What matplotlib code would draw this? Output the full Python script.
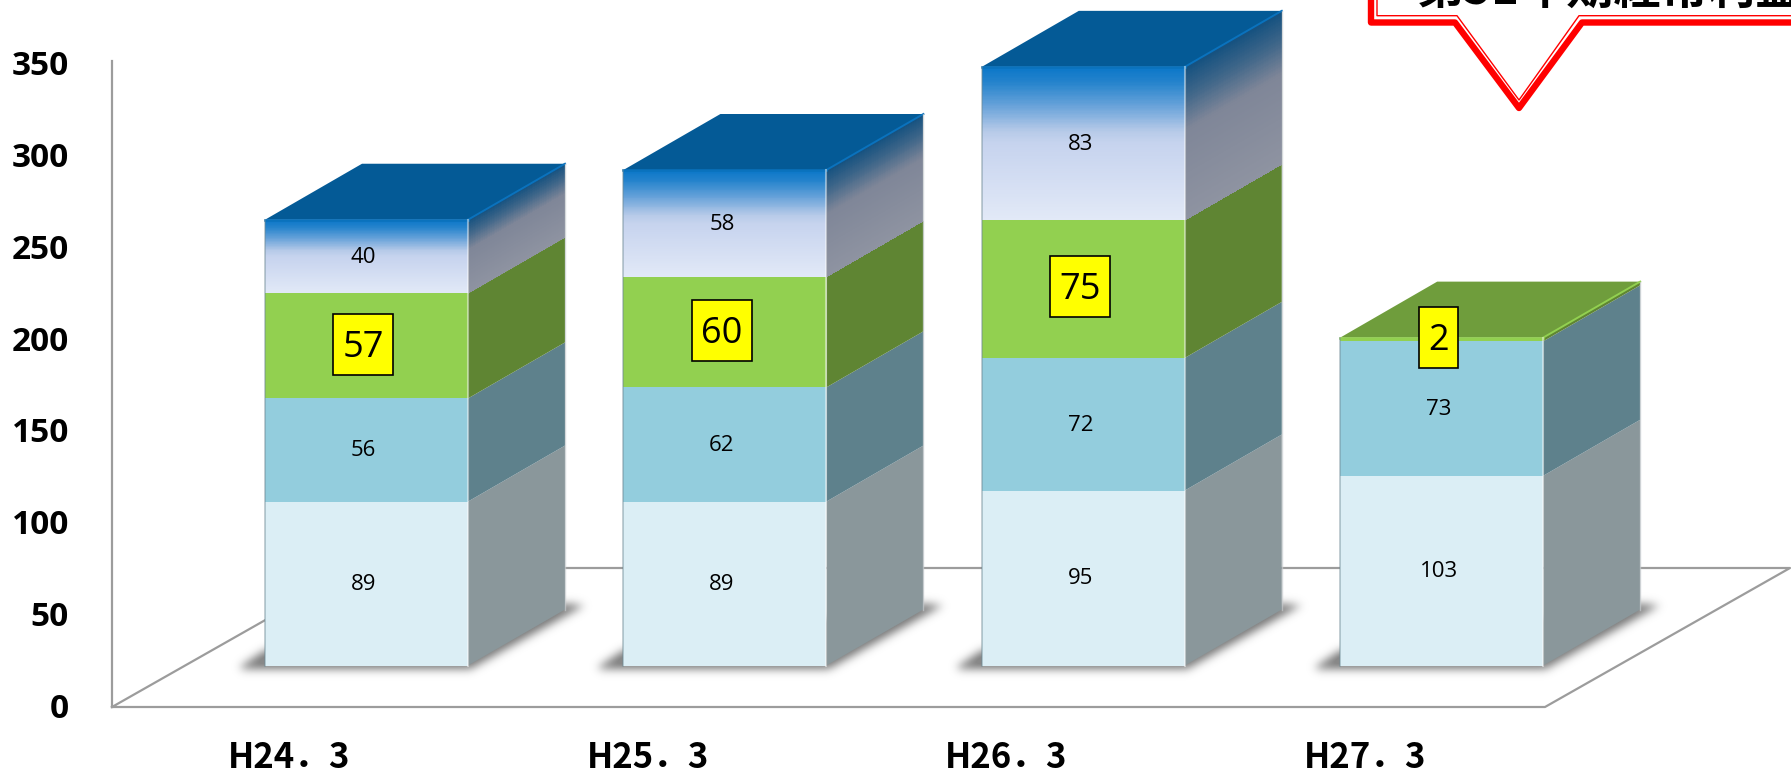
import numpy as np
import matplotlib
matplotlib.use("Agg")
import matplotlib.pyplot as plt
from matplotlib.colors import to_rgb
from matplotlib.patches import Rectangle
from matplotlib.path import Path

# values
categories = ["H24．3", "H25．3", "H26．3", "H27．3"]
seg1 = [89, 89, 95, 103]
seg2 = [56, 62, 72, 73]
seg3 = [57, 60, 75, 2]
seg4 = [40, 58, 83, 0]
y_ticks = [0, 50, 100, 150, 200, 250, 300, 350]
callout_text = "第51年期経常利益"

# layout, all in pixels of the 1791x774 picture
W, H = 1791, 774
base_px = 665.5      # front bottom edge of the bars
unit_px = 1.842      # pixels per one unit of value
step_px = 358.4      # bar to bar
bar0_px = 366.5      # centre of first bar
bar_w = 203.0 / step_px
depth_x = 97.0 / step_px
depth_y = 56.0 / unit_px
floor_front = -(707 - base_px) / unit_px
floor_back = (base_px - 568) / unit_px
label_dx = -3.0 / step_px   # data labels sit a little left of the bar centre


def px_x(p):
    return (p - bar0_px) / step_px


def px_y(p):
    return (base_px - p) / unit_px


fig = plt.figure(figsize=(W / 100, H / 100), dpi=100)
ax = fig.add_axes([0, 0, 1, 1])
ax.axis("off")

line_col = "#9c9c9c"
# back wall axis and floor
ax.plot([px_x(112), px_x(112)], [px_y(61), floor_front], color=line_col, lw=1.6, zorder=1)
ax.plot([px_x(112), px_x(1545), px_x(1790), px_x(357), px_x(112)],
        [floor_front, floor_front, floor_back, floor_back, floor_front],
        color=line_col, lw=1.6, zorder=1)

# soft shadows under the bars, built as one image over the whole canvas
gx, gy = np.meshgrid(np.arange(W) + 0.5, np.arange(H) + 0.5)
pts = np.column_stack([gx.ravel(), gy.ravel()])
mask = np.zeros(H * W)
for i in range(len(categories)):
    x0 = bar0_px + i * step_px - 101.5
    x1 = x0 + 203
    poly = Path([(x0 - 24, base_px + 1), (x0, base_px - 15), (x1 + 97, base_px - 62),
                 (x1 + 116, base_px - 60), (x1 + 3, base_px + 3), (x0 - 24, base_px + 3)])
    mask = np.maximum(mask, poly.contains_points(pts).astype(float))
mask = mask.reshape(H, W)
kern = np.exp(-0.5 * (np.arange(-14, 15) / 4.5) ** 2)
kern /= kern.sum()
mask = np.apply_along_axis(lambda r: np.convolve(r, kern, mode="same"), 0, mask)
mask = np.apply_along_axis(lambda r: np.convolve(r, kern, mode="same"), 1, mask)
shadow = np.zeros((H, W, 4))
shadow[..., :3] = to_rgb("#888888")
shadow[..., 3] = np.clip(mask * 1.15, 0, 1)
ax.imshow(shadow, extent=[px_x(0), px_x(W), px_y(H), px_y(0)], aspect="auto", zorder=2,
          interpolation="nearest")


def grad_face(xl, xr, y_bot, y_top, rise, stops):
    # vertical gradient on a face, rise shears it for the side faces
    n = 120
    t = np.linspace(0, 1, n + 1)
    ys = y_top + (y_bot - y_top) * t
    X = np.array([[xl, xr]] * (n + 1))
    Y = np.column_stack([ys, ys + rise])
    mid = (t[:-1] + t[1:]) / 2
    pos = [s[0] for s in stops]
    rgb = np.array([to_rgb(s[1]) for s in stops])
    C = np.stack([np.interp(mid, pos, rgb[:, k]) for k in range(3)], axis=1)[:, None, :]
    ax.pcolormesh(X, Y, C, shading="flat", zorder=4, antialiased=False, linewidth=0)


front_cols = ["#dbeef5", "#93cddd", "#92d050"]
side_cols = ["#8a979b", "#5e818c", "#5f8533"]
front_top = [(0, "#0a76c8"), (0.1, "#2483cc"), (0.24, "#619fd8"), (0.42, "#b6cae8"),
             (0.5, "#c6d3ee"), (1, "#e2e9f7")]
side_top = [(0, "#12507f"), (0.2, "#3f6689"), (0.42, "#7f8698"), (1, "#8e93a1")]

x = np.arange(len(categories))
bottom = np.zeros(len(categories))
for seg, fc, sc in zip([seg1, seg2, seg3], front_cols, side_cols):
    vals = np.array(seg, dtype=float)
    ax.bar(x, vals, bar_w, bottom=bottom, color=fc, zorder=4, linewidth=0)
    for i in x:
        xr = i + bar_w / 2
        b, t = bottom[i], bottom[i] + vals[i]
        ax.fill([xr, xr + depth_x, xr + depth_x, xr],
                [b, b + depth_y, t + depth_y, t], color=sc, zorder=3, lw=0)
    bottom += vals

tops = bottom + np.array(seg4)
for i in x:
    xl, xr = i - bar_w / 2, i + bar_w / 2
    if seg4[i] > 0:
        grad_face(xl, xr, bottom[i], tops[i], 0, front_top)
        grad_face(xr, xr + depth_x, bottom[i], tops[i], depth_y, side_top)
        roof = "#045a96"
        rim = "#0a72bd"
    else:
        roof = "#6f9d3c"
        rim = "#92d050"
    ax.fill([xl, xr, xr + depth_x, xl + depth_x],
            [tops[i], tops[i], tops[i] + depth_y, tops[i] + depth_y], color=roof, zorder=4, lw=0)
    ax.plot([xl, xr], [tops[i], tops[i]], color=rim, lw=1.8, zorder=5)
    ax.plot([xr, xr + depth_x], [tops[i], tops[i] + depth_y], color=rim, lw=1.4, zorder=5)
    # pale strips along the vertical edges
    ax.plot([xr, xr], [0, tops[i]], color="white", alpha=0.45, lw=1.5, zorder=5)
    ax.plot([xl, xl], [0, tops[i]], color="#6f8a94", alpha=0.5, lw=1.2, zorder=5)
    ax.plot([xr + depth_x] * 2, [depth_y, tops[i] + depth_y], color="#c4c9cc", alpha=0.7, lw=1.0, zorder=5)

# value labels
num_font = ["Open Sans", "DejaVu Sans"]
for seg, below in [(seg1, np.zeros(4)), (seg2, np.array(seg1)), (seg4, np.array(seg1) + seg2 + seg3)]:
    for i in x:
        if seg[i] > 0:
            ax.text(i + label_dx, below[i] + seg[i] / 2 - 0.5, str(seg[i]), ha="center", va="center",
                    fontsize=16, family=num_font, color="black", zorder=6)
below3 = np.array(seg1) + seg2
for i in x:
    label = str(seg3[i])
    box_w = (len(label) * 21 + 18) / step_px
    box_h = 61 / unit_px
    cy = below3[i] + seg3[i] / 2 + 1
    ax.add_patch(Rectangle((i + label_dx - box_w / 2, cy - box_h / 2), box_w, box_h, fc="#ffff00",
                           ec="black", lw=1.2, zorder=7))
    ax.text(i + label_dx, cy - 1.9, label, ha="center", va="center", fontsize=26, family=num_font,
            color="black", zorder=8)

# axis labels
for v in y_ticks:
    ax.text(px_x(69), px_y(707 - v * 1.837 + 2.5), str(v), ha="right", va="center", fontsize=24,
            fontweight="bold", family=num_font, color="black")
for i, c in enumerate(categories):
    ax.text(px_x(bar0_px + i * step_px - 77), px_y(757), c, ha="center", va="center", fontsize=25,
            fontweight="bold", family=["Noto Sans CJK JP", "DejaVu Sans"], color="black")

# callout, cut by the top and right edges of the picture
red = "#ff0000"
ax.plot(px_x(np.array([1900, 1582, 1519, 1455, 1371, 1371])),
        px_y(np.array([22.5, 22.5, 108, 22.5, 22.5, -30])),
        color=red, lw=4.6, solid_joinstyle="round", solid_capstyle="butt", zorder=8)
ax.plot(px_x(np.array([1900, 1579, 1519, 1457, 1377, 1377])),
        px_y(np.array([15.7, 15.7, 100, 15.7, 15.7, -30])),
        color=red, lw=1.0, solid_joinstyle="round", zorder=8)
ax.text(px_x(1416), px_y(4), callout_text, ha="left", va="baseline", fontsize=34, fontweight="bold",
        family=["Noto Sans CJK JP", "DejaVu Sans"], color="black", zorder=9)

ax.set_xlim(px_x(0), px_x(W))
ax.set_ylim(px_y(H), px_y(0))
fig.savefig("out.png", dpi=100)
